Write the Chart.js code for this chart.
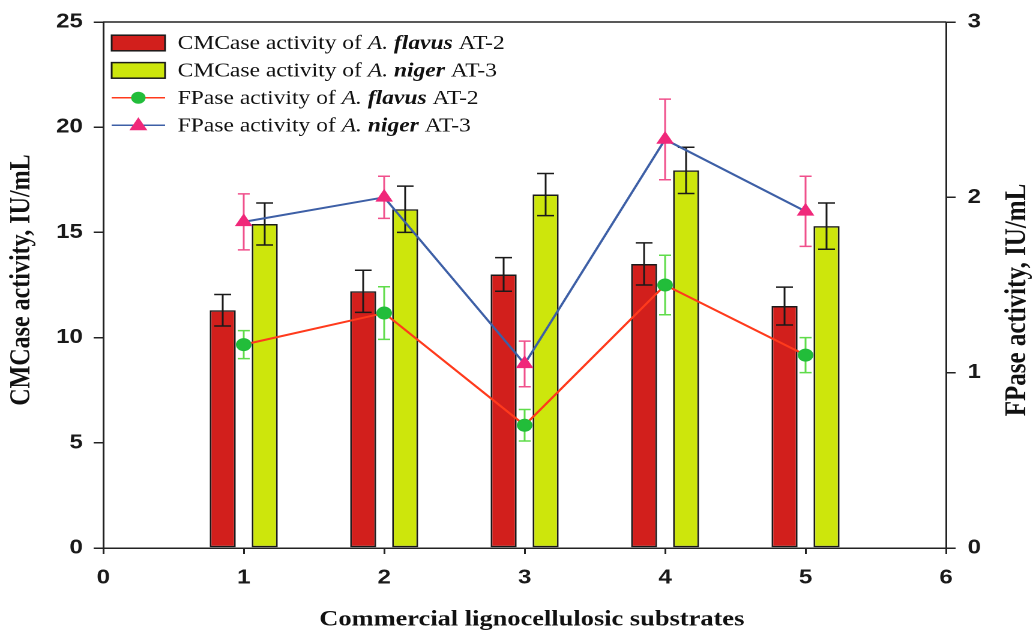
<!DOCTYPE html>
<html>
<head>
<meta charset="utf-8">
<script src="https://cdn.jsdelivr.net/npm/chart.js@4.4.0/dist/chart.umd.min.js"></script>
<style>
  html, body { margin: 0; padding: 0; background: #fff; overflow: hidden; }
  /* figure is drawn at 863px and widened to the full 1036px page */
  #wrap { width: 863px; height: 640px; transform: scale(1.2005, 1); transform-origin: 0 0; }
</style>
</head>
<body>
<div id="wrap"><canvas id="chart" width="863" height="640"></canvas></div>
<script>
// ---- data ----
const substrates = [1, 2, 3, 4, 5];

const cmcFlavus    = [11.3, 12.2, 13.0, 13.5, 11.5];
const cmcFlavusErr = [0.75, 1.0, 0.8, 1.0, 0.9];
const cmcNiger     = [15.4, 16.1, 16.8, 17.95, 15.3];
const cmcNigerErr  = [1.0, 1.1, 1.0, 1.1, 1.1];

const fpFlavus     = [1.16, 1.34, 0.70, 1.50, 1.10];
const fpFlavusErr  = [0.08, 0.15, 0.09, 0.17, 0.10];
const fpNiger      = [1.86, 2.00, 1.05, 2.33, 1.92];
const fpNigerErr   = [0.16, 0.12, 0.13, 0.23, 0.20];

const xTicks  = [0, 1, 2, 3, 4, 5, 6];
const yTicks  = [0, 5, 10, 15, 20, 25];
const y1Ticks = [0, 1, 2, 3];

const xTitle  = 'Commercial lignocellulosic substrates';
const yTitle  = 'CMCase activity, IU/mL';
const y1Title = 'FPase activity, IU/mL';

// legend rows: [plain prefix, genus abbreviation, species, strain]
const legendRows = [
  ['CMCase activity of ', 'A. ', 'flavus', ' AT-2'],
  ['CMCase activity of ', 'A. ', 'niger', ' AT-3'],
  ['FPase activity of ', 'A. ', 'flavus', ' AT-2'],
  ['FPase activity of ', 'A. ', 'niger', ' AT-3']
];

// ---- styles ----
const RED_BAR = '#d21f1c';
const GREEN_BAR = '#cde60c';
const RED_LINE = '#ff3a1c';
const GREEN_DOT = '#22bd3a';
const BLUE_LINE = '#3d5fa6';
const PINK = '#f0287a';
const AXIS = '#222';
const SERIF = '"Liberation Serif", "Times New Roman", serif';
const SANS = '"Liberation Sans", Arial, sans-serif';

const pts = (vals) => substrates.map((s, i) => ({ x: s, y: vals[i] }));

const datasets = [
  { type: 'bar', data: pts(cmcFlavus), errors: cmcFlavusErr, errorColor: '#1a1a1a', errorCap: 14,
    backgroundColor: RED_BAR, borderColor: '#1a1a1a', borderWidth: 1.5, borderSkipped: false,
    yAxisID: 'y', order: 2, categoryPercentage: 0.598, barPercentage: 0.62 },
  { type: 'bar', data: pts(cmcNiger), errors: cmcNigerErr, errorColor: '#1a1a1a', errorCap: 14,
    backgroundColor: GREEN_BAR, borderColor: '#1a1a1a', borderWidth: 1.5, borderSkipped: false,
    yAxisID: 'y', order: 2, categoryPercentage: 0.598, barPercentage: 0.62 },
  { type: 'line', data: pts(fpFlavus), errors: fpFlavusErr, errorColor: '#5fdc4a', errorCap: 10,
    borderColor: RED_LINE, borderWidth: 2, pointStyle: 'circle', pointRadius: 6,
    pointBackgroundColor: GREEN_DOT, pointBorderColor: GREEN_DOT, pointBorderWidth: 1,
    yAxisID: 'y1', order: 1, tension: 0 },
  { type: 'line', data: pts(fpNiger), errors: fpNigerErr, errorColor: '#f0508c', errorCap: 10,
    borderColor: BLUE_LINE, borderWidth: 2, pointStyle: 'triangle', pointRadius: 7.5,
    pointBackgroundColor: PINK, pointBorderColor: PINK, pointBorderWidth: 1,
    yAxisID: 'y1', order: 1, tension: 0 }
];

// error bars: bars get theirs on top, markers sit over theirs
function drawErrors(chart, index) {
  const ds = chart.data.datasets[index];
  if (!ds.errors) return;
  const meta = chart.getDatasetMeta(index);
  const ys = chart.scales[meta.yAxisID];
  const ctx = chart.ctx;
  ctx.save();
  ctx.strokeStyle = ds.errorColor;
  ctx.lineWidth = 1.5;
  meta.data.forEach((el, j) => {
    const v = ds.data[j].y, e = ds.errors[j];
    const top = ys.getPixelForValue(v + e), bot = ys.getPixelForValue(v - e);
    const h = ds.errorCap / 2;
    ctx.beginPath();
    ctx.moveTo(el.x, top); ctx.lineTo(el.x, bot);
    ctx.moveTo(el.x - h, top); ctx.lineTo(el.x + h, top);
    ctx.moveTo(el.x - h, bot); ctx.lineTo(el.x + h, bot);
    ctx.stroke();
  });
  ctx.restore();
}

const errorBars = {
  id: 'errorBars',
  afterDatasetDraw(chart, args) {
    if (chart.data.datasets[args.index].type === 'bar') drawErrors(chart, args.index);
  },
  beforeDatasetDraw(chart, args) {
    if (chart.data.datasets[args.index].type === 'line') drawErrors(chart, args.index);
  }
};

// frame, axis titles and legend
const decorations = {
  id: 'decorations',
  afterDraw(chart) {
    const ctx = chart.ctx;
    const a = chart.chartArea;
    ctx.save();
    // top edge of the frame
    ctx.strokeStyle = AXIS; ctx.lineWidth = 1.5;
    ctx.beginPath(); ctx.moveTo(a.left, a.top); ctx.lineTo(a.right, a.top); ctx.stroke();

    ctx.fillStyle = '#111';
    ctx.textAlign = 'center'; ctx.textBaseline = 'middle';
    ctx.font = 'bold 22px ' + SERIF;
    ctx.fillText(xTitle, 443, 620);

    ctx.font = 'bold 24px ' + SERIF;
    ctx.save(); ctx.translate(18.5, 280); ctx.rotate(-Math.PI / 2);
    ctx.fillText(yTitle, 0, 0); ctx.restore();
    ctx.font = 'bold 25px ' + SERIF;
    ctx.save(); ctx.translate(847.5, 300); ctx.rotate(-Math.PI / 2);
    ctx.fillText(y1Title, 0, 0); ctx.restore();

    // legend
    const rowY = [43, 70.4, 97.8, 125.2];
    const x0 = 93, x1 = 137.5, tx = 148;
    const sz = 19.6;
    legendRows.forEach((row, i) => {
      const ds = chart.data.datasets[i];
      const y = rowY[i];
      if (ds.type === 'bar') {
        ctx.fillStyle = ds.backgroundColor;
        ctx.fillRect(x0, y - 7.8, x1 - x0, 15.6);
        ctx.strokeStyle = '#1a1a1a'; ctx.lineWidth = 1.5;
        ctx.strokeRect(x0, y - 7.8, x1 - x0, 15.6);
      } else {
        ctx.strokeStyle = ds.borderColor; ctx.lineWidth = 1.5;
        ctx.beginPath(); ctx.moveTo(x0, y); ctx.lineTo(x1, y); ctx.stroke();
        const cx = (x0 + x1) / 2;
        ctx.fillStyle = ds.pointBackgroundColor;
        ctx.beginPath();
        if (ds.pointStyle === 'circle') {
          ctx.arc(cx, y, 6, 0, Math.PI * 2);
        } else {
          ctx.moveTo(cx, y - 8); ctx.lineTo(cx + 7.5, y + 5); ctx.lineTo(cx - 7.5, y + 5); ctx.closePath();
        }
        ctx.fill();
      }
      const fonts = [
        sz + 'px ' + SERIF,
        'italic ' + sz + 'px ' + SERIF,
        'italic bold ' + sz + 'px ' + SERIF,
        sz + 'px ' + SERIF
      ];
      let x = tx;
      ctx.fillStyle = '#111';
      ctx.textAlign = 'left'; ctx.textBaseline = 'middle';
      row.forEach((seg, k) => {
        ctx.font = fonts[k];
        ctx.fillText(seg, x, y + 1);
        x += ctx.measureText(seg).width;
      });
    });
    ctx.restore();
  }
};

const tickFont = { family: SANS, size: 20, weight: 'bold' };

new Chart(document.getElementById('chart'), {
  data: { datasets },
  plugins: [errorBars, decorations],
  options: {
    responsive: false,
    animation: false,
    devicePixelRatio: 2,
    layout: { padding: { top: 18, left: 0, right: 0, bottom: 0 } },
    plugins: { legend: { display: false }, tooltip: { enabled: false } },
    scales: {
      x: {
        type: 'linear', min: 0, max: 6, offset: false,
        afterFit: (s) => { s.height = 92; },
        afterBuildTicks: (s) => { s.ticks = xTicks.map(v => ({ value: v })); },
        grid: { offset: false, drawOnChartArea: false, tickLength: 6, tickColor: AXIS, lineWidth: 1.5 },
        border: { color: AXIS, width: 1.5 },
        ticks: { font: tickFont, color: '#1a1a1a', padding: 12, maxRotation: 0 }
      },
      y: {
        position: 'left', min: 0, max: 25,
        afterFit: (s) => { s.width = 86; },
        afterBuildTicks: (s) => { s.ticks = yTicks.map(v => ({ value: v })); },
        grid: { drawOnChartArea: false, tickLength: 8, tickColor: AXIS, lineWidth: 1.5 },
        border: { color: AXIS, width: 1.5 },
        ticks: { font: tickFont, color: '#1a1a1a', padding: 9 }
      },
      y1: {
        position: 'right', min: 0, max: 3,
        afterFit: (s) => { s.width = 75; },
        afterBuildTicks: (s) => { s.ticks = y1Ticks.map(v => ({ value: v })); },
        grid: { drawOnChartArea: false, tickLength: 8, tickColor: AXIS, lineWidth: 1.5 },
        border: { color: AXIS, width: 1.5 },
        ticks: { font: tickFont, color: '#1a1a1a', padding: 10 }
      }
    }
  }
});
</script>
</body>
</html>
